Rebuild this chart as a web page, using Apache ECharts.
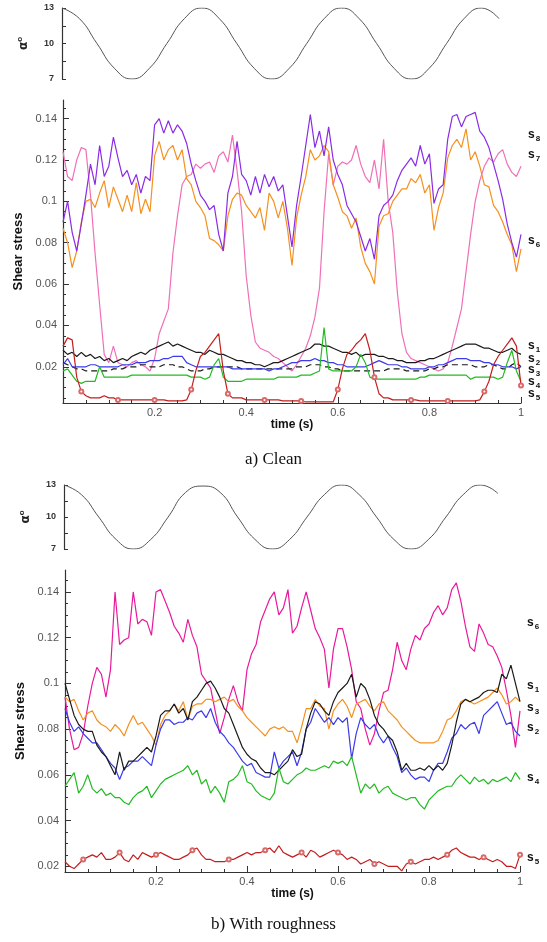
<!DOCTYPE html>
<html>
<head>
<meta charset="utf-8">
<script src="https://cdn.jsdelivr.net/npm/echarts@6/dist/echarts.min.js"></script>
<style>
  body { margin: 0; background: #fff; }
  #chart { width: 547px; height: 942px; }
</style>
</head>
<body>
<div id="chart"></div>
<script>
// time samples (s)
var TIME = [0,0.01,0.02,0.03,0.04,0.05,0.06,0.07,0.08,0.09,
  0.1,0.11,0.12,0.13,0.14,0.15,0.16,0.17,0.18,0.19,
  0.2,0.21,0.22,0.23,0.24,0.25,0.26,0.27,0.28,0.29,
  0.3,0.31,0.32,0.33,0.34,0.35,0.36,0.37,0.38,0.39,
  0.4,0.41,0.42,0.43,0.44,0.45,0.46,0.47,0.48,0.49,
  0.5,0.51,0.52,0.53,0.54,0.55,0.56,0.57,0.58,0.59,
  0.6,0.61,0.62,0.63,0.64,0.65,0.66,0.67,0.68,0.69,
  0.7,0.71,0.72,0.73,0.74,0.75,0.76,0.77,0.78,0.79,
  0.8,0.81,0.82,0.83,0.84,0.85,0.86,0.87,0.88,0.89,
  0.9,0.91,0.92,0.93,0.94,0.95,0.96,0.97,0.98,0.99,1];

// angle of attack (deg)
var ALPHA_T = [0,0.04,0.08,0.12,0.16,0.2,0.24,0.28,0.32,0.36,0.4,0.44,0.48,
  0.52,0.56,0.6,0.64,0.68,0.72,0.76,0.8,0.84,0.88,0.92,0.96,1];
var ALPHA_A = [13,12.1,10,7.9,7,7.9,10,12.1,13,12.1,10,7.9,7,7.9,10,12.1,13,12.1,10,7.9,7,7.9,10,12.1,13,12.1];
var ALPHA_B = [13,12.1,10,7.9,7,7.9,10,12.3,12.9,12.3,10,7.9,7,7.9,10,12.1,13,12.1,10,7.9,7,7.9,10,12.1,13,12.2];

// a) clean
var A_S8 = [0.090,0.100,0.085,0.076,0.089,0.103,0.118,0.108,0.127,0.112,
  0.117,0.131,0.121,0.112,0.115,0.108,0.113,0.104,0.112,0.110,
  0.137,0.140,0.133,0.139,0.133,0.137,0.134,0.128,0.118,0.110,
  0.103,0.100,0.096,0.098,0.084,0.076,0.104,0.112,0.129,0.113,
  0.110,0.103,0.112,0.104,0.113,0.107,0.112,0.105,0.108,0.093,
  0.078,0.098,0.112,0.127,0.142,0.126,0.134,0.122,0.136,0.120,
  0.113,0.108,0.098,0.094,0.090,0.083,0.076,0.082,0.072,0.093,
  0.098,0.100,0.103,0.110,0.115,0.118,0.121,0.117,0.127,0.118,
  0.123,0.099,0.106,0.108,0.130,0.141,0.142,0.136,0.141,0.142,
  0.143,0.134,0.131,0.126,0.118,0.110,0.101,0.089,0.080,0.073,
  0.084];
var A_S6 = [0.087,0.080,0.068,0.076,0.090,0.100,0.101,0.097,0.104,0.110,
  0.097,0.107,0.101,0.095,0.103,0.095,0.109,0.094,0.101,0.095,
  0.122,0.129,0.120,0.125,0.127,0.120,0.125,0.111,0.108,0.100,
  0.097,0.093,0.082,0.081,0.079,0.076,0.093,0.101,0.104,0.103,
  0.098,0.095,0.092,0.097,0.086,0.104,0.100,0.092,0.100,0.087,
  0.069,0.092,0.103,0.112,0.125,0.120,0.122,0.127,0.124,0.108,
  0.102,0.095,0.093,0.087,0.092,0.078,0.070,0.066,0.060,0.088,
  0.093,0.094,0.100,0.103,0.106,0.106,0.111,0.109,0.113,0.104,
  0.108,0.086,0.097,0.104,0.121,0.127,0.130,0.126,0.135,0.120,
  0.124,0.117,0.108,0.107,0.098,0.095,0.090,0.084,0.079,0.066,
  0.077];
var A_S7 = [0.124,0.112,0.110,0.120,0.126,0.125,0.103,0.075,0.050,0.026,
  0.022,0.030,0.022,0.021,0.020,0.022,0.023,0.021,0.020,0.018,
  0.024,0.036,0.042,0.048,0.075,0.093,0.108,0.112,0.113,0.118,
  0.116,0.118,0.119,0.114,0.122,0.124,0.119,0.132,0.115,0.095,
  0.064,0.045,0.032,0.029,0.028,0.027,0.025,0.024,0.022,0.020,
  0.018,0.021,0.025,0.029,0.035,0.044,0.058,0.095,0.123,0.108,
  0.117,0.119,0.118,0.120,0.127,0.118,0.112,0.109,0.120,0.106,
  0.130,0.100,0.085,0.056,0.036,0.027,0.024,0.023,0.022,0.021,
  0.020,0.019,0.018,0.019,0.022,0.030,0.039,0.048,0.066,0.084,
  0.100,0.110,0.117,0.121,0.119,0.123,0.125,0.118,0.114,0.112,
  0.117];
var A_S1 = [0.028,0.026,0.027,0.025,0.027,0.025,0.026,0.024,0.025,0.023,
  0.024,0.022,0.023,0.024,0.023,0.025,0.026,0.027,0.026,0.028,
  0.029,0.030,0.031,0.032,0.030,0.031,0.030,0.029,0.028,0.027,
  0.027,0.026,0.028,0.027,0.026,0.026,0.025,0.024,0.023,0.023,
  0.022,0.022,0.021,0.021,0.020,0.021,0.022,0.022,0.023,0.024,
  0.025,0.026,0.027,0.028,0.029,0.031,0.031,0.030,0.030,0.029,
  0.028,0.027,0.027,0.026,0.027,0.025,0.026,0.026,0.026,0.025,
  0.025,0.024,0.024,0.023,0.023,0.022,0.022,0.022,0.023,0.023,
  0.024,0.024,0.025,0.026,0.027,0.028,0.029,0.030,0.031,0.031,
  0.031,0.030,0.029,0.029,0.028,0.027,0.027,0.028,0.029,0.027,
  0.026];
var A_S2 = [0.021,0.024,0.020,0.020,0.020,0.020,0.021,0.021,0.020,0.020,
  0.020,0.020,0.020,0.021,0.021,0.021,0.022,0.022,0.022,0.023,
  0.023,0.023,0.024,0.024,0.025,0.025,0.025,0.022,0.021,0.020,
  0.020,0.020,0.020,0.020,0.020,0.020,0.020,0.019,0.019,0.019,
  0.019,0.019,0.019,0.019,0.019,0.018,0.019,0.019,0.020,0.021,
  0.022,0.022,0.023,0.023,0.023,0.024,0.023,0.023,0.022,0.022,
  0.021,0.021,0.020,0.020,0.020,0.020,0.020,0.021,0.022,0.023,
  0.022,0.021,0.021,0.021,0.020,0.020,0.019,0.019,0.019,0.019,
  0.020,0.020,0.021,0.021,0.022,0.023,0.024,0.024,0.024,0.023,
  0.023,0.023,0.022,0.022,0.021,0.021,0.020,0.020,0.020,0.019,
  0.020];
var A_S3 = [0.022,0.021,0.020,0.019,0.019,0.018,0.018,0.018,0.018,0.018,
  0.018,0.019,0.019,0.019,0.020,0.020,0.020,0.021,0.021,0.020,
  0.020,0.020,0.021,0.021,0.021,0.020,0.020,0.019,0.018,0.018,
  0.018,0.019,0.019,0.020,0.020,0.020,0.020,0.020,0.020,0.019,
  0.019,0.019,0.019,0.019,0.019,0.019,0.019,0.019,0.019,0.019,
  0.019,0.020,0.020,0.020,0.021,0.021,0.021,0.020,0.020,0.019,
  0.019,0.018,0.018,0.018,0.018,0.018,0.018,0.018,0.018,0.018,
  0.018,0.019,0.019,0.019,0.019,0.018,0.018,0.018,0.018,0.018,
  0.019,0.019,0.020,0.020,0.021,0.021,0.021,0.021,0.021,0.021,
  0.020,0.020,0.020,0.021,0.021,0.020,0.019,0.019,0.021,0.022,
  0.020];
var A_S4 = [0.018,0.019,0.016,0.013,0.012,0.013,0.013,0.013,0.020,0.015,
  0.015,0.015,0.015,0.015,0.015,0.016,0.016,0.016,0.016,0.016,
  0.016,0.016,0.016,0.016,0.016,0.016,0.016,0.016,0.015,0.015,
  0.015,0.014,0.015,0.021,0.024,0.015,0.013,0.013,0.013,0.013,
  0.014,0.014,0.014,0.014,0.014,0.014,0.014,0.015,0.015,0.015,
  0.015,0.015,0.016,0.016,0.016,0.017,0.018,0.039,0.019,0.018,
  0.018,0.018,0.018,0.018,0.020,0.026,0.022,0.015,0.014,0.014,
  0.014,0.014,0.014,0.014,0.014,0.014,0.014,0.014,0.015,0.015,
  0.016,0.016,0.016,0.016,0.016,0.016,0.016,0.016,0.016,0.014,
  0.015,0.015,0.015,0.015,0.015,0.014,0.015,0.022,0.028,0.018,
  0.013];
var A_S5 = [0.030,0.034,0.033,0.015,0.008,0.006,0.005,0.005,0.005,0.006,
  0.005,0.005,0.004,0.004,0.004,0.004,0.004,0.004,0.004,0.004,
  0.004,0.004,0.004,0.0035,0.0035,0.0035,0.0035,0.004,0.009,0.018,
  0.025,0.027,0.030,0.033,0.036,0.018,0.007,0.005,0.005,0.005,
  0.004,0.004,0.004,0.004,0.004,0.004,0.004,0.004,0.0035,0.0035,
  0.0035,0.0035,0.0035,0.003,0.003,0.003,0.003,0.003,0.003,0.003,
  0.009,0.019,0.026,0.028,0.031,0.033,0.036,0.028,0.015,0.007,
  0.005,0.005,0.004,0.004,0.004,0.004,0.004,0.004,0.0035,0.0035,
  0.0035,0.0035,0.0035,0.0035,0.0035,0.0035,0.0035,0.0035,0.0035,0.0035,
  0.0035,0.004,0.008,0.013,0.021,0.025,0.028,0.031,0.034,0.030,
  0.011];

// b) with roughness
var B_S6 = [0.094,0.080,0.071,0.072,0.078,0.090,0.100,0.107,0.104,0.094,
  0.106,0.140,0.117,0.119,0.120,0.140,0.126,0.128,0.127,0.121,
  0.140,0.141,0.136,0.131,0.125,0.122,0.118,0.128,0.121,0.116,
  0.104,0.101,0.098,0.088,0.078,0.085,0.093,0.099,0.092,0.088,
  0.106,0.113,0.117,0.127,0.132,0.137,0.140,0.130,0.133,0.141,
  0.122,0.125,0.133,0.140,0.132,0.124,0.120,0.115,0.098,0.115,
  0.124,0.124,0.116,0.106,0.092,0.089,0.080,0.073,0.078,0.088,
  0.096,0.097,0.106,0.118,0.110,0.106,0.115,0.121,0.119,0.124,
  0.126,0.131,0.134,0.130,0.133,0.141,0.144,0.136,0.125,0.116,
  0.114,0.126,0.122,0.117,0.116,0.112,0.107,0.097,0.086,0.072,
  0.088];
var B_S1 = [0.100,0.093,0.086,0.082,0.080,0.079,0.079,0.073,0.070,0.068,
  0.064,0.060,0.070,0.062,0.066,0.066,0.068,0.070,0.072,0.070,
  0.077,0.086,0.088,0.088,0.091,0.087,0.089,0.084,0.092,0.094,
  0.097,0.100,0.101,0.098,0.094,0.089,0.087,0.082,0.077,0.072,
  0.069,0.067,0.066,0.063,0.061,0.061,0.060,0.062,0.064,0.066,
  0.071,0.068,0.069,0.080,0.087,0.092,0.091,0.088,0.086,0.092,
  0.096,0.098,0.100,0.104,0.094,0.100,0.098,0.093,0.086,0.082,
  0.080,0.077,0.075,0.070,0.062,0.065,0.062,0.062,0.063,0.062,
  0.064,0.062,0.064,0.062,0.065,0.073,0.083,0.091,0.093,0.092,
  0.093,0.094,0.096,0.097,0.097,0.096,0.104,0.102,0.108,0.100,
  0.092];
var B_S2 = [0.089,0.083,0.079,0.081,0.078,0.076,0.074,0.074,0.071,0.068,
  0.065,0.063,0.058,0.063,0.064,0.066,0.066,0.068,0.066,0.064,
  0.073,0.080,0.084,0.084,0.082,0.083,0.083,0.085,0.084,0.087,
  0.088,0.085,0.089,0.083,0.079,0.077,0.074,0.072,0.069,0.066,
  0.064,0.065,0.061,0.060,0.059,0.059,0.070,0.063,0.066,0.068,
  0.070,0.064,0.070,0.080,0.083,0.089,0.086,0.083,0.085,0.082,
  0.085,0.083,0.085,0.067,0.078,0.085,0.082,0.080,0.082,0.077,
  0.074,0.077,0.072,0.068,0.061,0.063,0.060,0.058,0.059,0.059,
  0.057,0.062,0.065,0.065,0.070,0.076,0.078,0.082,0.080,0.082,
  0.083,0.078,0.086,0.088,0.090,0.092,0.087,0.082,0.083,0.079,
  0.077];
var B_S3 = [0.094,0.092,0.093,0.088,0.084,0.087,0.088,0.084,0.082,0.081,
  0.079,0.082,0.080,0.077,0.082,0.086,0.082,0.083,0.080,0.077,
  0.073,0.082,0.086,0.088,0.091,0.088,0.092,0.084,0.090,0.091,
  0.091,0.093,0.093,0.092,0.093,0.094,0.092,0.093,0.090,0.088,
  0.085,0.083,0.081,0.079,0.077,0.080,0.081,0.080,0.081,0.079,
  0.079,0.074,0.081,0.089,0.089,0.093,0.090,0.089,0.080,0.088,
  0.091,0.093,0.090,0.085,0.091,0.092,0.093,0.090,0.088,0.091,
  0.092,0.088,0.086,0.084,0.081,0.079,0.077,0.075,0.074,0.074,
  0.074,0.074,0.075,0.079,0.084,0.085,0.088,0.092,0.093,0.092,
  0.091,0.092,0.093,0.094,0.096,0.098,0.095,0.091,0.092,0.094,
  0.092];
var B_S4 = [0.055,0.058,0.061,0.052,0.055,0.060,0.054,0.052,0.054,0.051,
  0.052,0.050,0.050,0.048,0.047,0.050,0.052,0.053,0.055,0.050,
  0.053,0.056,0.058,0.059,0.060,0.061,0.062,0.064,0.060,0.062,
  0.056,0.058,0.052,0.055,0.052,0.048,0.057,0.058,0.060,0.064,
  0.057,0.056,0.053,0.051,0.050,0.049,0.052,0.063,0.057,0.056,
  0.058,0.060,0.061,0.063,0.062,0.062,0.063,0.064,0.063,0.066,
  0.065,0.066,0.064,0.068,0.060,0.052,0.056,0.054,0.056,0.052,
  0.054,0.055,0.052,0.051,0.050,0.049,0.050,0.050,0.047,0.045,
  0.049,0.051,0.053,0.054,0.055,0.055,0.058,0.060,0.058,0.056,
  0.059,0.057,0.058,0.056,0.058,0.057,0.058,0.059,0.057,0.061,
  0.058];
var B_S5 = [0.022,0.020,0.019,0.021,0.023,0.024,0.025,0.024,0.026,0.023,
  0.023,0.024,0.026,0.023,0.022,0.025,0.023,0.026,0.025,0.024,
  0.025,0.026,0.025,0.024,0.023,0.023,0.024,0.025,0.027,0.028,
  0.025,0.023,0.023,0.022,0.022,0.022,0.023,0.023,0.024,0.025,
  0.026,0.025,0.026,0.026,0.027,0.028,0.026,0.029,0.026,0.025,
  0.024,0.025,0.026,0.024,0.027,0.026,0.024,0.025,0.026,0.027,
  0.026,0.025,0.023,0.024,0.023,0.021,0.022,0.023,0.021,0.022,
  0.021,0.020,0.020,0.020,0.018,0.021,0.022,0.021,0.022,0.023,
  0.023,0.024,0.023,0.024,0.025,0.027,0.028,0.026,0.025,0.024,
  0.024,0.023,0.024,0.023,0.022,0.023,0.022,0.020,0.020,0.019,
  0.025];

// axis ticks
var ALPHA_LABELS = [7, 10, 13];
var ALPHA_TICKS = [7, 8.5, 10, 11.5, 13];
var SHEAR_LABELS = [0.02, 0.04, 0.06, 0.08, 0.1, 0.12, 0.14];
var SHEAR_MINOR_A = [0.005,0.01,0.015,0.025,0.03,0.035,0.045,0.05,0.055,0.065,0.07,0.075,
  0.085,0.09,0.095,0.105,0.11,0.115,0.125,0.13,0.135,0.145];
var SHEAR_MINOR_B = [0.025,0.03,0.035,0.045,0.05,0.055,0.065,0.07,0.075,
  0.085,0.09,0.095,0.105,0.11,0.115,0.125,0.13,0.135,0.145];

var chart = echarts.init(document.getElementById('chart'));

function pairs(t, v) {
  return t.map(function (x, i) { return [x, v[i]]; });
}

var axisCol = '#333';
var labelFont = 'Liberation Sans';

function line(data, color, xi, yi, extra) {
  var s = {
    type: 'line',
    xAxisIndex: xi,
    yAxisIndex: yi,
    data: data,
    showSymbol: false,
    symbol: 'none',
    animation: false,
    lineStyle: { color: color, width: 1.2 },
    itemStyle: { color: color }
  };
  for (var k in extra) s[k] = extra[k];
  return s;
}

function timeAxis(grid) {
  return {
    type: 'value', gridIndex: grid, min: 0, max: 1, interval: 0.2,
    name: 'time (s)', nameLocation: 'middle', nameGap: 15,
    nameTextStyle: { fontFamily: labelFont, fontWeight: 'bold', fontSize: 12, color: '#111' },
    axisLine: { lineStyle: { color: axisCol, width: 1.2 } },
    axisTick: { inside: true, length: 6, lineStyle: { color: axisCol } },
    minorTick: { show: true, splitNumber: 4, length: 3, lineStyle: { color: axisCol } },
    axisLabel: {
      margin: 4, fontFamily: labelFont, fontSize: 11, color: '#555',
      formatter: function (v) { return v === 0 ? '' : String(+v.toFixed(1)); }
    },
    splitLine: { show: false }
  };
}

function hiddenX(grid) {
  return { type: 'value', gridIndex: grid, min: 0, max: 1, show: false, splitLine: { show: false } };
}

function alphaAxis(grid) {
  return {
    type: 'value', gridIndex: grid, min: 7, max: 13,
    name: '{a|α}{o|o}', nameLocation: 'middle', nameGap: 30,
    nameTextStyle: { rich: {
      a: { fontFamily: 'DejaVu Sans', fontSize: 12, fontWeight: 'bold', color: '#222' },
      o: { fontFamily: labelFont, fontSize: 8, fontWeight: 'bold', color: '#222', padding: [0, 0, 8, 0] }
    } },
    axisLine: { show: true, lineStyle: { color: axisCol, width: 1.2 } },
    axisTick: { show: true, inside: true, length: 4, customValues: ALPHA_TICKS, lineStyle: { color: axisCol } },
    axisLabel: { customValues: ALPHA_LABELS, margin: 8, fontFamily: labelFont, fontSize: 9, fontWeight: 'bold', color: '#333' },
    splitLine: { show: false }
  };
}

function shearAxis(grid, min, max) {
  return {
    type: 'value', gridIndex: grid, min: min, max: max, position: 'left',
    name: 'Shear stress', nameLocation: 'middle', nameGap: 35,
    nameTextStyle: { fontFamily: labelFont, fontWeight: 'bold', fontSize: 13, color: '#111' },
    axisLine: { show: true, lineStyle: { color: axisCol, width: 1.2 } },
    axisTick: { show: true, inside: true, length: 6, customValues: SHEAR_LABELS, lineStyle: { color: axisCol } },
    axisLabel: { customValues: SHEAR_LABELS, margin: 6, fontFamily: labelFont, fontSize: 11, color: '#555' },
    splitLine: { show: false }
  };
}

function minorAxis(grid, min, max, ticks) {
  return {
    type: 'value', gridIndex: grid, min: min, max: max, position: 'left', offset: 0,
    axisLine: { show: false, onZero: false },
    axisTick: { show: true, inside: true, length: 3, customValues: ticks, lineStyle: { color: axisCol } },
    axisLabel: { show: false },
    splitLine: { show: false }
  };
}

function sLabel(n, x, y) {
  return {
    type: 'text', left: x, top: y - 8,
    style: {
      text: '{s|s}{n|' + n + '}',
      rich: {
        s: { fontFamily: labelFont, fontSize: 12, fontWeight: 'bold', fill: '#111' },
        n: { fontFamily: labelFont, fontSize: 8, fontWeight: 'bold', fill: '#111', padding: [7, 0, 0, 1] }
      }
    }
  };
}

var PINK = '#F070B8', PURPLE = '#8A2BE6', ORANGE = '#F5901E', BLACK = '#1a1a1a',
    BLUE = '#3B3BEA', GREEN = '#22BB22', RED = '#C41E1E', MAGENTA = '#E8199C';

function sparseCircle(v, p) {
  return p.dataIndex % 8 === 4 ? 'emptyCircle' : 'none';
}

var redMarks = {
  showSymbol: true, symbol: sparseCircle, symbolSize: 4,
  itemStyle: { color: '#D86A6A', borderColor: '#D86A6A', borderWidth: 0.8 }
};

var option = {
  backgroundColor: '#fff',
  animation: false,
  title: [
    { text: 'a) Clean', left: 'center', top: 451, padding: 0,
      textStyle: { fontFamily: 'Liberation Serif', fontSize: 17, fontWeight: 'normal', color: '#111' } },
    { text: 'b) With roughness', left: 'center', top: 916, padding: 0,
      textStyle: { fontFamily: 'Liberation Serif', fontSize: 17, fontWeight: 'normal', color: '#111' } }
  ],
  grid: [
    { left: 62, top: 8, width: 437, height: 71 },
    { left: 63, top: 100, width: 458, height: 303 },
    { left: 64, top: 485, width: 434, height: 64 },
    { left: 65, top: 570, width: 455, height: 302 }
  ],
  xAxis: [hiddenX(0), timeAxis(1), hiddenX(2), timeAxis(3)],
  yAxis: [
    alphaAxis(0),
    shearAxis(1, 0.0025, 0.149),
    minorAxis(1, 0.0025, 0.149, SHEAR_MINOR_A),
    alphaAxis(2),
    shearAxis(3, 0.0175, 0.1496),
    minorAxis(3, 0.0175, 0.1496, SHEAR_MINOR_B)
  ],
  series: [
    line(pairs(ALPHA_T, ALPHA_A), '#555', 0, 0, { smooth: 0.5, lineStyle: { color: '#555', width: 1 } }),
    line(pairs(ALPHA_T, ALPHA_B), '#555', 2, 3, { smooth: 0.5, lineStyle: { color: '#555', width: 1 } }),

    line(pairs(TIME, A_S7), PINK, 1, 1),
    line(pairs(TIME, A_S6), ORANGE, 1, 1),
    line(pairs(TIME, A_S8), PURPLE, 1, 1),
    line(pairs(TIME, A_S3), BLACK, 1, 1, { lineStyle: { color: BLACK, width: 1.2, type: [6, 4] } }),
    line(pairs(TIME, A_S1), BLACK, 1, 1),
    line(pairs(TIME, A_S2), BLUE, 1, 1),
    line(pairs(TIME, A_S4), GREEN, 1, 1),
    line(pairs(TIME, A_S5), RED, 1, 1, redMarks),

    line(pairs(TIME, B_S6), MAGENTA, 3, 4),
    line(pairs(TIME, B_S3), ORANGE, 3, 4),
    line(pairs(TIME, B_S2), BLUE, 3, 4),
    line(pairs(TIME, B_S1), BLACK, 3, 4),
    line(pairs(TIME, B_S4), GREEN, 3, 4),
    line(pairs(TIME, B_S5), RED, 3, 4, redMarks)
  ],
  graphic: [
    sLabel(8, 528, 137), sLabel(7, 528, 157), sLabel(6, 528, 243),
    sLabel(1, 528, 348), sLabel(2, 528, 361), sLabel(3, 528, 372),
    sLabel(4, 528, 384), sLabel(5, 528, 396),
    sLabel(6, 527, 625), sLabel(1, 527, 688), sLabel(3, 527, 710),
    sLabel(2, 527, 730), sLabel(4, 527, 780), sLabel(5, 527, 860)
  ]
};

chart.setOption(option);
</script>
</body>
</html>
